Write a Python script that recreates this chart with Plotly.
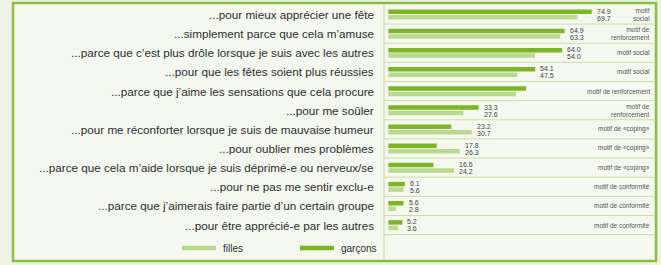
import plotly.graph_objects as go

W, H = 661, 265

labels = [
    "...pour mieux apprécier une fête",
    "...simplement parce que cela m’amuse",
    "...parce que c’est plus drôle lorsque je suis avec les autres",
    "...pour que les fêtes soient plus réussies",
    "...parce que j’aime les sensations que cela procure",
    "...pour me soûler",
    "...pour me réconforter lorsque je suis de mauvaise humeur",
    "...pour oublier mes problèmes",
    "...parce que cela m’aide lorsque je suis déprimé-e ou nerveux/se",
    "...pour ne pas me sentir exclu-e",
    "...parce que j’aimerais faire partie d’un certain groupe",
    "...pour être apprécié-e par les autres",
]
garcons = [74.9, 64.9, 64.0, 54.1, 50.7, 33.3, 23.2, 17.8, 16.6, 6.1, 5.6, 5.2]
filles = [69.7, 63.3, 54.0, 47.5, 47.0, 27.6, 30.7, 26.3, 24.2, 5.6, 2.8, 3.6]
show_values = [True, True, True, True, False, True, True, True, True, True, True, True]
motifs = [
    "motif<br>social",
    "motif de<br>renforcement",
    "motif social",
    "motif social",
    "motif de renforcement",
    "motif de<br>renforcement",
    "motif de «coping»",
    "motif de «coping»",
    "motif de «coping»",
    "motif de conformité",
    "motif de conformité",
    "motif de conformité",
]
legend_names = ["filles", "garçons"]

C_G = "#7cb627"
C_F = "#b9d98e"
TXT = "#2e2e2e"
BORDER = "#8cbd45"
SEP = "#cadfae"

# pixel geometry helpers
x0_px, px_per_unit = 388.3, 2.716
row0_px, row_step = 14.5, 19.14
xr = [-x0_px / px_per_unit, (W - x0_px) / px_per_unit]
yr = [(H - row0_px) / row_step, -row0_px / row_step]

idx = list(range(len(labels)))

fig = go.Figure()
fig.add_trace(go.Bar(y=idx, x=garcons, orientation="h", name=legend_names[1],
                     marker=dict(color=C_G, line=dict(width=0)),
                     offset=-0.255, width=0.235, showlegend=False, hoverinfo="skip"))
fig.add_trace(go.Bar(y=idx, x=filles, orientation="h", name=legend_names[0],
                     marker=dict(color=C_F, line=dict(width=0)),
                     offset=0.03, width=0.235, showlegend=False, hoverinfo="skip"))

shapes = []
# outer frame
shapes.append(dict(type="rect", xref="paper", yref="paper",
                   x0=13 / W, x1=656 / W, y0=1 - 261 / H, y1=1 - 3 / H,
                   line=dict(color=BORDER, width=2.5), fillcolor="#f4f8ee", layer="below"))
# vertical separator
shapes.append(dict(type="line", xref="paper", yref="paper",
                   x0=384 / W, x1=384 / W, y0=1 - 260 / H, y1=1 - 4 / H,
                   line=dict(color=SEP, width=1.2)))
# horizontal separators
for i in idx:
    shapes.append(dict(type="line", xref="paper", yref="y",
                       x0=384 / W, x1=655 / W, y0=i + 0.5, y1=i + 0.5,
                       line=dict(color=SEP, width=1)))

annotations = []
for i, lab in enumerate(labels):
    annotations.append(dict(x=376 / W, xref="paper", y=i, yref="y", text=lab,
                            showarrow=False, xanchor="right", yanchor="middle",
                            font=dict(family="Liberation Sans", size=11.7, color=TXT)))
    annotations.append(dict(x=652 / W, xref="paper", y=i, yref="y", text=motifs[i],
                            showarrow=False, xanchor="right", yanchor="middle", align="right",
                            font=dict(family="Liberation Sans", size=6.5, color="#555555")))
    if show_values[i]:
        xm = max(garcons[i], filles[i])
        annotations.append(dict(x=xm, y=i - 0.16, text=f"{garcons[i]:.1f}", showarrow=False,
                                xanchor="left", yanchor="middle", xshift=3,
                                font=dict(family="Liberation Sans", size=7, color="#444444")))
        annotations.append(dict(x=xm, y=i + 0.2, text=f"{filles[i]:.1f}", showarrow=False,
                                xanchor="left", yanchor="middle", xshift=3,
                                font=dict(family="Liberation Sans", size=7, color="#444444")))

# legend
ly = 1 - 248 / H
for (xa, xb, col, name) in [(182, 216, C_F, legend_names[0]), (300, 334, C_G, legend_names[1])]:
    shapes.append(dict(type="rect", xref="paper", yref="paper",
                       x0=xa / W, x1=xb / W, y0=ly - 2.2 / H, y1=ly + 2.2 / H,
                       line=dict(width=0), fillcolor=col))
    annotations.append(dict(x=(xb + 5) / W, xref="paper", y=ly, yref="paper", text=name,
                            showarrow=False, xanchor="left", yanchor="middle",
                            font=dict(family="Liberation Sans", size=10, color=TXT)))

fig.update_layout(
    width=W, height=H,
    margin=dict(l=0, r=0, t=0, b=0),
    paper_bgcolor="#eef3e6",
    plot_bgcolor="rgba(0,0,0,0)",
    barmode="overlay",
    xaxis=dict(range=xr, visible=False, showgrid=False, zeroline=False, fixedrange=True),
    yaxis=dict(range=yr, visible=False, showgrid=False, zeroline=False, fixedrange=True),
    shapes=shapes,
    annotations=annotations,
)

fig.write_html("out.html")
